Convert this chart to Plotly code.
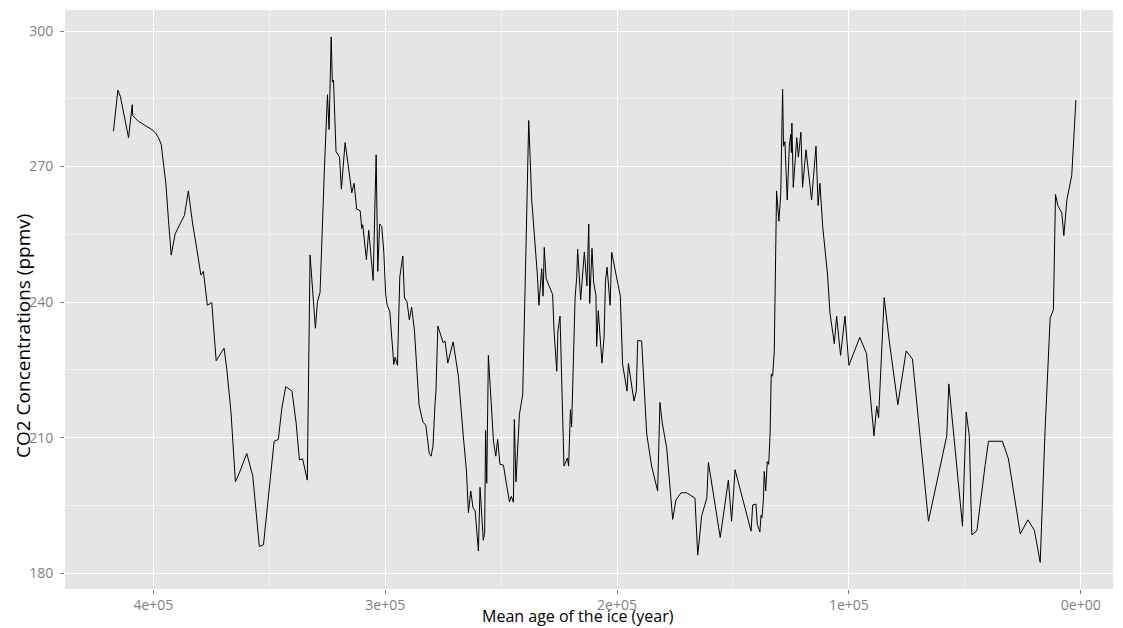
import plotly.graph_objects as go

# Vostok ice core, CO2 vs age
age = [417200, 415300, 414200, 410700, 409100, 408900, 406400, 403500, 400700, 399000,
       397800, 396600, 395600, 394600, 393500, 392300, 390600, 386600, 384900, 383100,
       381300, 379500, 378400, 376700, 374800, 372900, 369500, 368300, 366500,
       364600, 362900, 359700, 357100, 354300, 352500, 347900, 346100, 344600, 342900,
       340200, 338400, 337000, 335600, 333600, 332400, 330100, 329200, 328100, 326200,
       324900, 324200, 323300, 322800, 322300, 321200, 319700, 318900, 317300, 315900,
       314400, 313400,
       312300, 310800, 310100, 309700, 308100, 307100, 305200, 303900, 303200, 302400,
       301500, 300600, 299800, 299100, 298000, 296300, 295700, 294700, 293700, 292400,
       291700, 290600, 289600, 288600, 287400, 285400, 283700, 282500, 281000, 280200,
       279400, 278500, 278100, 277300, 276300, 275000, 274200, 273000, 270700, 268400,
       266400, 265000, 264100, 263100, 262100, 261200, 259800, 259100,
       257700, 257100, 256700, 256200, 255500, 253300, 252300, 251500, 250500, 249000,
       247600, 246400, 245600, 244700, 244300, 243600, 242100, 240700, 239300, 238100,
       236800, 235400, 234400, 233700, 232500, 231900, 231400, 230600, 227800, 227200,
       226000, 225500, 224600, 222900, 221400, 220900, 220100, 219600, 218100, 217400,
       217000, 215700, 214100, 213000, 212200, 211800, 210800, 210100, 209100, 208800,
       208100, 206500, 205600, 205000, 204300, 203000,
       202300, 198600, 197600, 195700, 195100, 192700, 191700, 191100, 189400, 187200,
       185100, 182500, 181500, 180500, 178600, 176000, 174600, 172400, 170000, 166400,
       165200, 163500, 161300, 160600, 157800, 155500, 152000, 150600, 149100,
       145500, 142200, 141500, 140100, 139500, 138400, 137900, 137500, 136900, 136500,
       135900, 135200, 134600, 134000, 133500, 132900, 132200, 131200, 130200, 129400,
       128600, 128200, 127600, 126600, 125700, 125100, 124800, 124600, 124000, 123400,
       122500, 121800, 120700, 120000, 118500, 116100, 114200, 113300, 112500, 111300,
       109200, 108200, 106300, 105300, 103600, 101700, 100000,
       95300, 92400, 89200, 88000, 87200, 84800, 82600, 78900, 75300, 72600,
       65700, 57800, 56900, 51000, 49400, 48100, 47000, 44800, 41200,
       39800, 33800, 31200, 26100, 22800, 20000, 17500, 15400, 13200, 11800,
       10900, 9900, 8200, 7300, 6000, 3900, 2100]

co2 = [277.8, 286.9, 285.5, 276.4, 283.7, 281.3, 280.0, 279.0, 278.2, 277.4,
       276.4, 274.9, 270.9, 266.2, 258.3, 250.4, 255.1, 259.2, 264.6, 257.5,
       251.9, 246.0, 246.8, 239.3, 239.9, 227.0, 229.8, 225.1, 215.6,
       200.2, 202.2, 206.5, 201.5, 185.9, 186.3, 209.2, 209.6, 216.4, 221.3,
       220.3, 213.2, 205.1, 205.3, 200.6, 250.4, 234.2, 240.1, 242.1, 269.7,
       285.9, 278.2, 298.7, 288.7, 289.1, 273.3, 272.1, 265.0, 275.3, 270.1,
       264.2, 266.3,
       260.6, 260.2, 256.3, 257.1, 249.4, 255.9, 244.8, 272.6, 246.8, 257.3,
       256.7, 251.1, 241.7, 239.3, 237.9, 226.2, 227.8, 226.0, 245.6, 250.2,
       240.9, 240.1, 236.1, 238.9, 233.8, 217.2, 213.4, 212.8, 206.5, 205.9,
       208.1, 217.6, 220.3, 234.7, 233.0, 231.0, 231.4, 226.5, 231.2, 223.5,
       210.8, 202.9, 193.4, 198.2, 194.4, 193.8, 184.9, 199.0,
       187.3, 188.9, 211.6, 199.9, 228.2, 209.2, 205.9, 209.6, 204.1, 203.9,
       199.4, 195.8, 197.0, 195.7, 214.0, 200.2, 215.2, 219.5, 251.5, 280.2,
       262.6, 253.5, 246.2, 239.3, 247.4, 241.3, 252.1, 245.2, 241.7, 233.8,
       224.7, 233.6, 236.9, 203.7, 205.5, 203.7, 216.2, 212.4, 240.9, 245.5,
       251.7, 240.5, 251.1, 243.6, 257.3, 239.7, 251.9, 244.4, 241.5, 230.2,
       238.1, 226.5, 232.2, 244.6, 247.7, 239.3,
       251.0, 241.3, 226.2, 220.3, 226.4, 218.1, 220.3, 231.5, 231.4, 210.8,
       203.7, 198.2, 217.8, 213.2, 207.8, 191.9, 196.2, 197.8, 197.8, 196.6,
       184.0, 192.7, 196.6, 204.5, 195.8, 187.9, 200.6, 191.5, 202.9,
       195.9, 189.3, 195.1, 195.3, 190.8, 189.1, 192.8, 192.3, 196.2, 202.5,
       198.2, 204.7, 204.1, 210.8, 224.1, 223.6, 229.0, 264.6, 257.9, 264.0,
       287.1, 274.5, 275.5, 262.6, 274.5, 277.1, 273.1, 279.6, 265.4, 270.9,
       276.4, 272.1, 277.6, 265.4, 273.7, 262.6, 274.5, 261.4, 266.3, 256.7,
       246.0, 237.7, 230.8, 236.9, 228.2, 236.9, 226.0,
       232.2, 228.6, 210.4, 217.0, 214.4, 241.0, 231.4, 217.3, 229.2, 227.4,
       191.5, 210.4, 221.9, 190.4, 215.7, 210.4, 188.5, 189.4, 204.1,
       209.2, 209.2, 205.3, 188.7, 191.8, 189.5, 182.4, 211.6, 236.5, 238.3,
       263.8, 261.4, 259.8, 254.7, 262.6, 268.0, 284.7]

x_ticks = [400000, 300000, 200000, 100000, 0]
x_labels = ["4e+05", "3e+05", "2e+05", "1e+05", "0e+00"]
y_ticks = [180, 210, 240, 270, 300]

fig = go.Figure()
fig.add_trace(go.Scatter(x=age, y=co2, mode="lines",
                         line=dict(color="black", width=1), showlegend=False))

font = "Open Sans"
fig.update_layout(
    width=1123, height=628,
    margin=dict(l=65, r=10, t=10, b=39),
    paper_bgcolor="white", plot_bgcolor="#E5E5E5",
    font=dict(family=font),
)
fig.update_xaxes(
    range=[438100, -13900], tickvals=x_ticks, ticktext=x_labels,
    showgrid=True, gridcolor="white", gridwidth=1, zeroline=False,
    minor=dict(dtick=50000, tick0=0, showgrid=True, gridcolor="#F2F2F2", gridwidth=0.5),
    ticks="outside", ticklen=4, tickcolor="#7F7F7F", tickwidth=1,
    tickfont=dict(size=14, color="#7F7F7F"), ticklabelstandoff=-1,
    automargin=False, showline=False,
)
fig.update_yaxes(
    range=[176.5, 304.65], tickvals=y_ticks,
    showgrid=True, gridcolor="white", gridwidth=1, zeroline=False,
    minor=dict(dtick=15, tick0=0, showgrid=True, gridcolor="#F2F2F2", gridwidth=0.5),
    ticks="outside", ticklen=4, tickcolor="#7F7F7F", tickwidth=1,
    tickfont=dict(size=14, color="#7F7F7F"), ticklabelstandoff=4,
    automargin=False, showline=False,
)

# axis titles (placed where the reference has them)
fig.add_annotation(text="Mean age of the ice (year)", xref="paper", yref="paper",
                   x=0.4895, y=-0.047, xanchor="center", yanchor="middle",
                   showarrow=False, font=dict(size=16, color="black"))
fig.add_annotation(text="CO2 Concentrations (ppmv)", xref="paper", yref="paper",
                   x=-0.0401, y=0.437, xanchor="center", yanchor="middle", textangle=-90,
                   showarrow=False, font=dict(size=19, color="black"))

fig.write_html("out.html", config={"displayModeBar": False},
               post_script="document.body.style.margin='0px';")
